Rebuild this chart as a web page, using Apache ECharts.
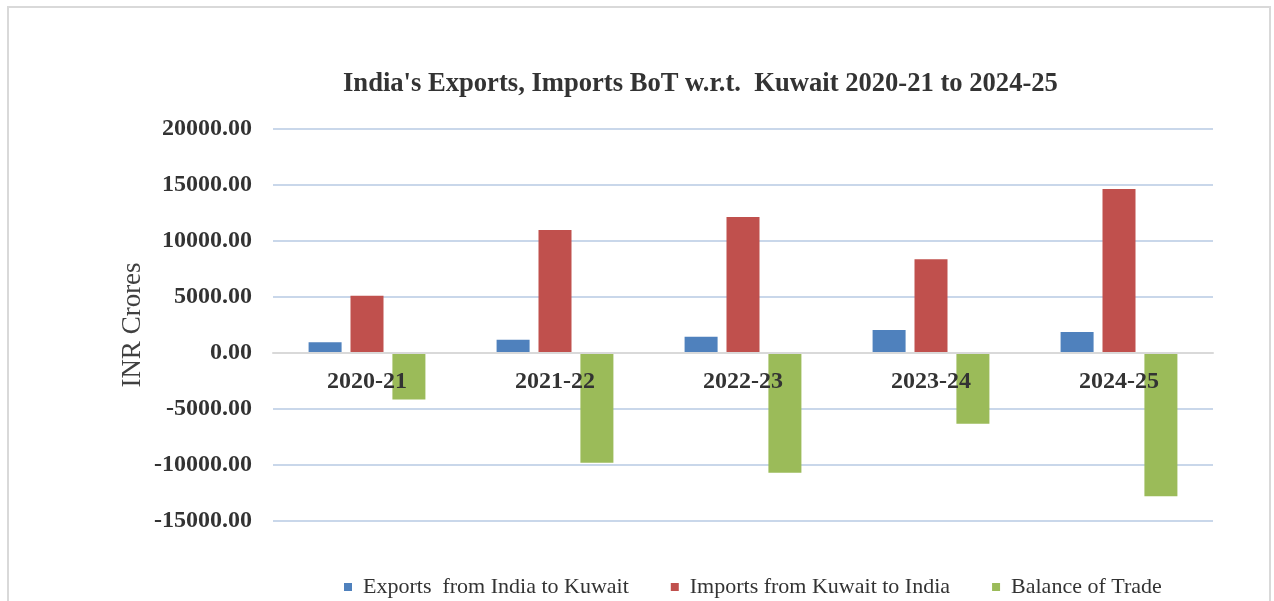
<!DOCTYPE html>
<html>
<head>
<meta charset="utf-8">
<script src="https://cdn.jsdelivr.net/npm/echarts@6/dist/echarts.min.js"></script>
<style>
html, body { margin: 0; padding: 0; background: #fff; }
#frame {
    position: absolute;
    left: 7px; top: 6px;
    width: 1264px; height: 620px;
    border: 2px solid #d9d9d9;
    box-sizing: border-box;
}
#chart { position: absolute; left: 0; top: 0; width: 1274px; height: 601px; }
</style>
</head>
<body>
<div id="frame"></div>
<div id="chart"></div>
<script>
// years on the x axis
var years = ['2020-21', '2021-22', '2022-23', '2023-24', '2024-25'];
// INR crores
var exportsToKuwait = [955, 1190, 1455, 2054, 1875];
var importsFromKuwait = [5116, 10982, 12150, 8363, 14643];
var balanceOfTrade = [-4160, -9790, -10690, -6310, -12800];

var seriesNames = ['Exports  from India to Kuwait', 'Imports from Kuwait to India', 'Balance of Trade'];
var serif = '"Liberation Serif", "Times New Roman", serif';

var myChart = echarts.init(document.getElementById('chart'));

var option = {
    animation: false,
    title: {
        text: "India's Exports, Imports BoT w.r.t.  Kuwait 2020-21 to 2024-25",
        left: 338,
        top: 66,
        textStyle: { fontFamily: serif, fontSize: 26.6, fontWeight: 'bold', color: '#333' }
    },
    legend: {
        data: seriesNames,
        bottom: -2,
        left: 339,
        icon: 'rect',
        itemWidth: 8,
        itemHeight: 8,
        itemGap: 42,
        textStyle: { fontFamily: serif, fontSize: 22, color: '#333', padding: [0, 0, 0, 6] }
    },
    grid: { left: 273, right: 61, top: 129, bottom: 80 },
    xAxis: {
        type: 'category',
        data: years,
        z: 5,
        offset: -168,
        axisLine: { onZero: false, lineStyle: { color: '#d9d9d9', width: 2 } },
        axisTick: { show: false },
        axisLabel: { margin: 17, fontFamily: serif, fontSize: 24, fontWeight: 'bold', color: '#333' }
    },
    yAxis: {
        type: 'value',
        min: -15000,
        max: 20000,
        interval: 5000,
        name: 'INR Crores',
        nameLocation: 'middle',
        nameGap: 127,
        nameMoveOverlap: false,
        nameTextStyle: { fontFamily: serif, fontSize: 27, color: '#404040' },
        axisLine: { show: false },
        axisTick: { show: false },
        axisLabel: {
            margin: 21,
            fontFamily: serif, fontSize: 24, fontWeight: 'bold', color: '#333',
            formatter: function (v) { return v.toFixed(2); }
        },
        splitLine: { lineStyle: { color: '#c9d7ea', width: 2 } }
    },
    series: [
        { name: seriesNames[0], type: 'bar', data: exportsToKuwait, barWidth: 33, barGap: '27%',
          itemStyle: { color: '#4f81bd' } },
        { name: seriesNames[1], type: 'bar', data: importsFromKuwait, barWidth: 33, barGap: '27%',
          itemStyle: { color: '#c0504d' } },
        { name: seriesNames[2], type: 'bar', data: balanceOfTrade, barWidth: 33, barGap: '27%',
          itemStyle: { color: '#9bbb59' } }
    ]
};

myChart.setOption(option);
</script>
</body>
</html>
